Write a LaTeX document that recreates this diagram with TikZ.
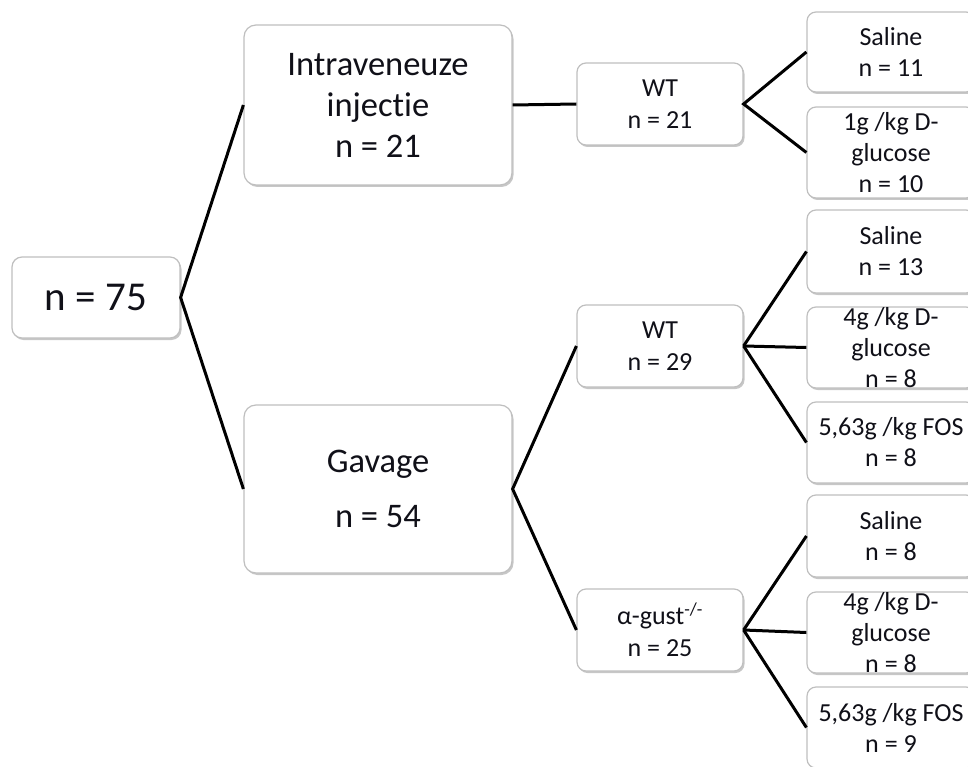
\documentclass[tikz,border=0pt]{standalone}
\usepackage{fontspec}
\setmainfont[Ligatures=NoCommon]{Carlito}
\usetikzlibrary{shadows}
\definecolor{boxline}{HTML}{BFBFBF}
\definecolor{ink}{HTML}{101018}
\tikzset{
  box/.style={draw=boxline, line width=1.2pt, fill=white, rounded corners=9pt, align=center, inner sep=0pt, text=ink,
    drop shadow={shadow xshift=1.5pt, shadow yshift=-2pt, opacity=0.22, fill=black}},
  bigbox/.style={box, rounded corners=12pt, minimum width=268pt, font=\fontsize{34.5}{41}\selectfont},
  midbox/.style={box, minimum width=166pt, minimum height=82pt, font=\fontsize{26}{32}\selectfont},
  leafbox/.style={box, minimum width=168pt, font=\fontsize{26}{31}\selectfont},
  link/.style={line width=3pt, black},
}
\begin{document}
\begin{tikzpicture}[x=1pt, y=-1pt]
\useasboundingbox (0,0) rectangle (968,767);
\node[box, rounded corners=10pt, minimum width=168pt, minimum height=81pt, font=\fontsize{41}{48}\selectfont] (root) at (96,297.5) {n = 75};
\node[bigbox, minimum height=160pt] (iv) at (378,105) {Intraveneuze\\injectie\\n = 21};
\node[bigbox, minimum height=168pt] (gav) at (378,489) {Gavage\\[14pt]n = 54};
\node[midbox] (wt1) at (660,104) {WT\\n = 21};
\node[midbox] (wt2) at (660,346) {WT\\n = 29};
\node[midbox] (ag) at (660,630) {α-gust\textsuperscript{-/-}\\n = 25};
\node[leafbox, minimum height=80pt] (s1) at (891,52) {Saline\\n = 11};
\node[leafbox, minimum height=91pt] (g1) at (891,152.5) {1g /kg D-\\glucose\\n = 10};
\node[leafbox, minimum height=83pt] (s2) at (891,251.5) {Saline\\n = 13};
\node[leafbox, minimum height=81pt] (g2) at (891,347.5) {4g /kg D-\\glucose\\n = 8};
\node[leafbox, minimum height=81pt] (f2) at (891,442.5) {5,63g /kg FOS\\n = 8};
\node[leafbox, minimum height=82pt] (s3) at (891,536) {Saline\\n = 8};
\node[leafbox, minimum height=81pt] (g3) at (891,632.5) {4g /kg D-\\glucose\\n = 8};
\node[leafbox, minimum height=81pt] (f3) at (891,727.5) {5,63g /kg FOS\\n = 9};
\draw[link] (iv.west) -- (root.east) -- (gav.west);
\draw[link] (iv.east) -- (wt1.west);
\draw[link] (wt2.west) -- (gav.east) -- (ag.west);
\draw[link] (s1.west) -- (wt1.east) -- (g1.west);
\draw[link] (wt2.east) -- (s2.west);
\draw[link] (wt2.east) -- (g2.west);
\draw[link] (wt2.east) -- (f2.west);
\draw[link] (ag.east) -- (s3.west);
\draw[link] (ag.east) -- (g3.west);
\draw[link] (ag.east) -- (f3.west);
\end{tikzpicture}
\end{document}
